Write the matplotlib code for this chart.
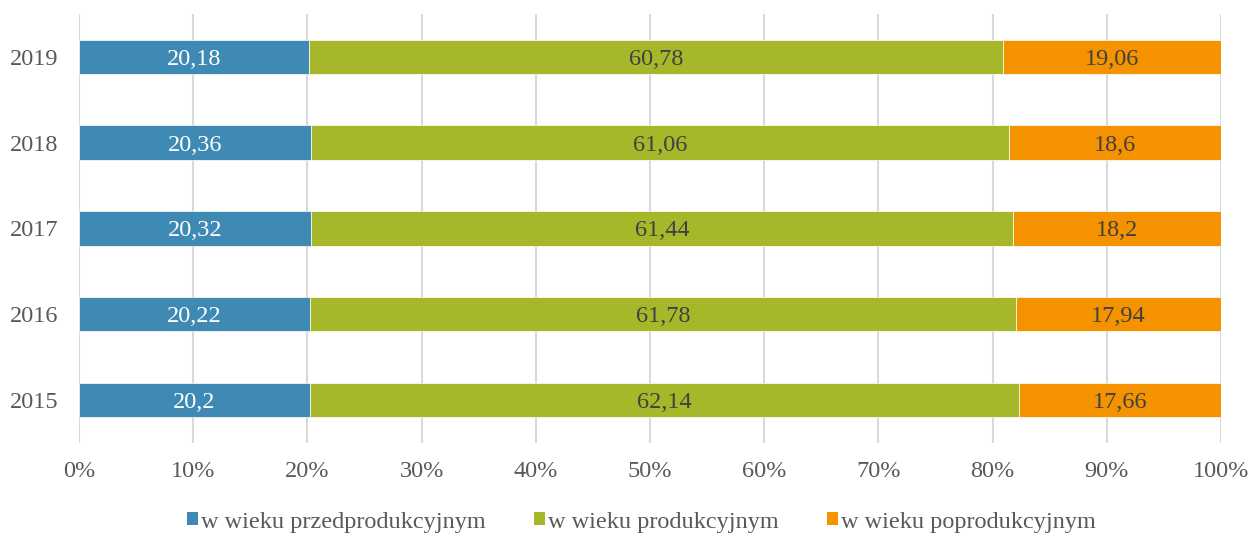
import numpy as np
import matplotlib.pyplot as plt
from matplotlib.patches import Patch

plt.rcParams['font.family'] = ['Liberation Serif', 'DejaVu Serif']

years = ['2015', '2016', '2017', '2018', '2019']
przed = [20.2, 20.22, 20.32, 20.36, 20.18]
prod = [62.14, 61.78, 61.44, 61.06, 60.78]
poprod = [17.66, 17.94, 18.2, 18.6, 19.06]
series_names = ['w wieku przedprodukcyjnym', 'w wieku produkcyjnym', 'w wieku poprodukcyjnym']
colors = ['#3F8AB5', '#A6B82A', '#F59200']
label_colors = ['white', '#404040', '#404040']


def fmt(v):
    return ('%g' % v).replace('.', ',')


fs = 17.5
fig = plt.figure(figsize=(12.5, 5.36), dpi=100)
ax = fig.add_axes([0.0632, 0.1735, 0.9136, 0.8005])

data = np.array([przed, prod, poprod])
totals = data.sum(axis=0)
shares = data / totals * 100
y = np.arange(len(years))

left = np.zeros(len(years))
for i in range(3):
    ax.barh(y, shares[i], left=left, height=0.4, color=colors[i], zorder=3,
            edgecolor='white', linewidth=0.5)
    for j in range(len(years)):
        ax.text(left[j] + shares[i][j] / 2, y[j], fmt(data[i][j]),
                ha='center', va='center_baseline', fontsize=fs, color=label_colors[i], zorder=4)
    left += shares[i]

ax.set_xlim(0, 100)
ax.set_ylim(-0.5, len(years) - 0.5)
ax.set_xticks(np.arange(0, 101, 10))
ax.set_xticklabels(['%d%%' % v for v in range(0, 101, 10)])
ax.set_yticks(y)
ax.set_yticklabels(years)
ax.tick_params(axis='both', length=0, labelsize=fs, labelcolor='#595959')
ax.tick_params(axis='x', pad=13)
ax.tick_params(axis='y', pad=15)
ax.grid(axis='x', color='#D9D9D9', linewidth=1.5, zorder=0)
for s in ax.spines.values():
    s.set_visible(False)

handles = [Patch(facecolor=c, label=n) for c, n in zip(colors, series_names)]
fig.legend(handles=handles, loc='center', bbox_to_anchor=(0.513, 0.026), ncol=3,
           frameon=False, fontsize=fs, handlelength=0.45, handleheight=0.45,
           handletextpad=0.12, columnspacing=2.0, labelcolor='#595959')

fig.savefig('out.png', dpi=100)
